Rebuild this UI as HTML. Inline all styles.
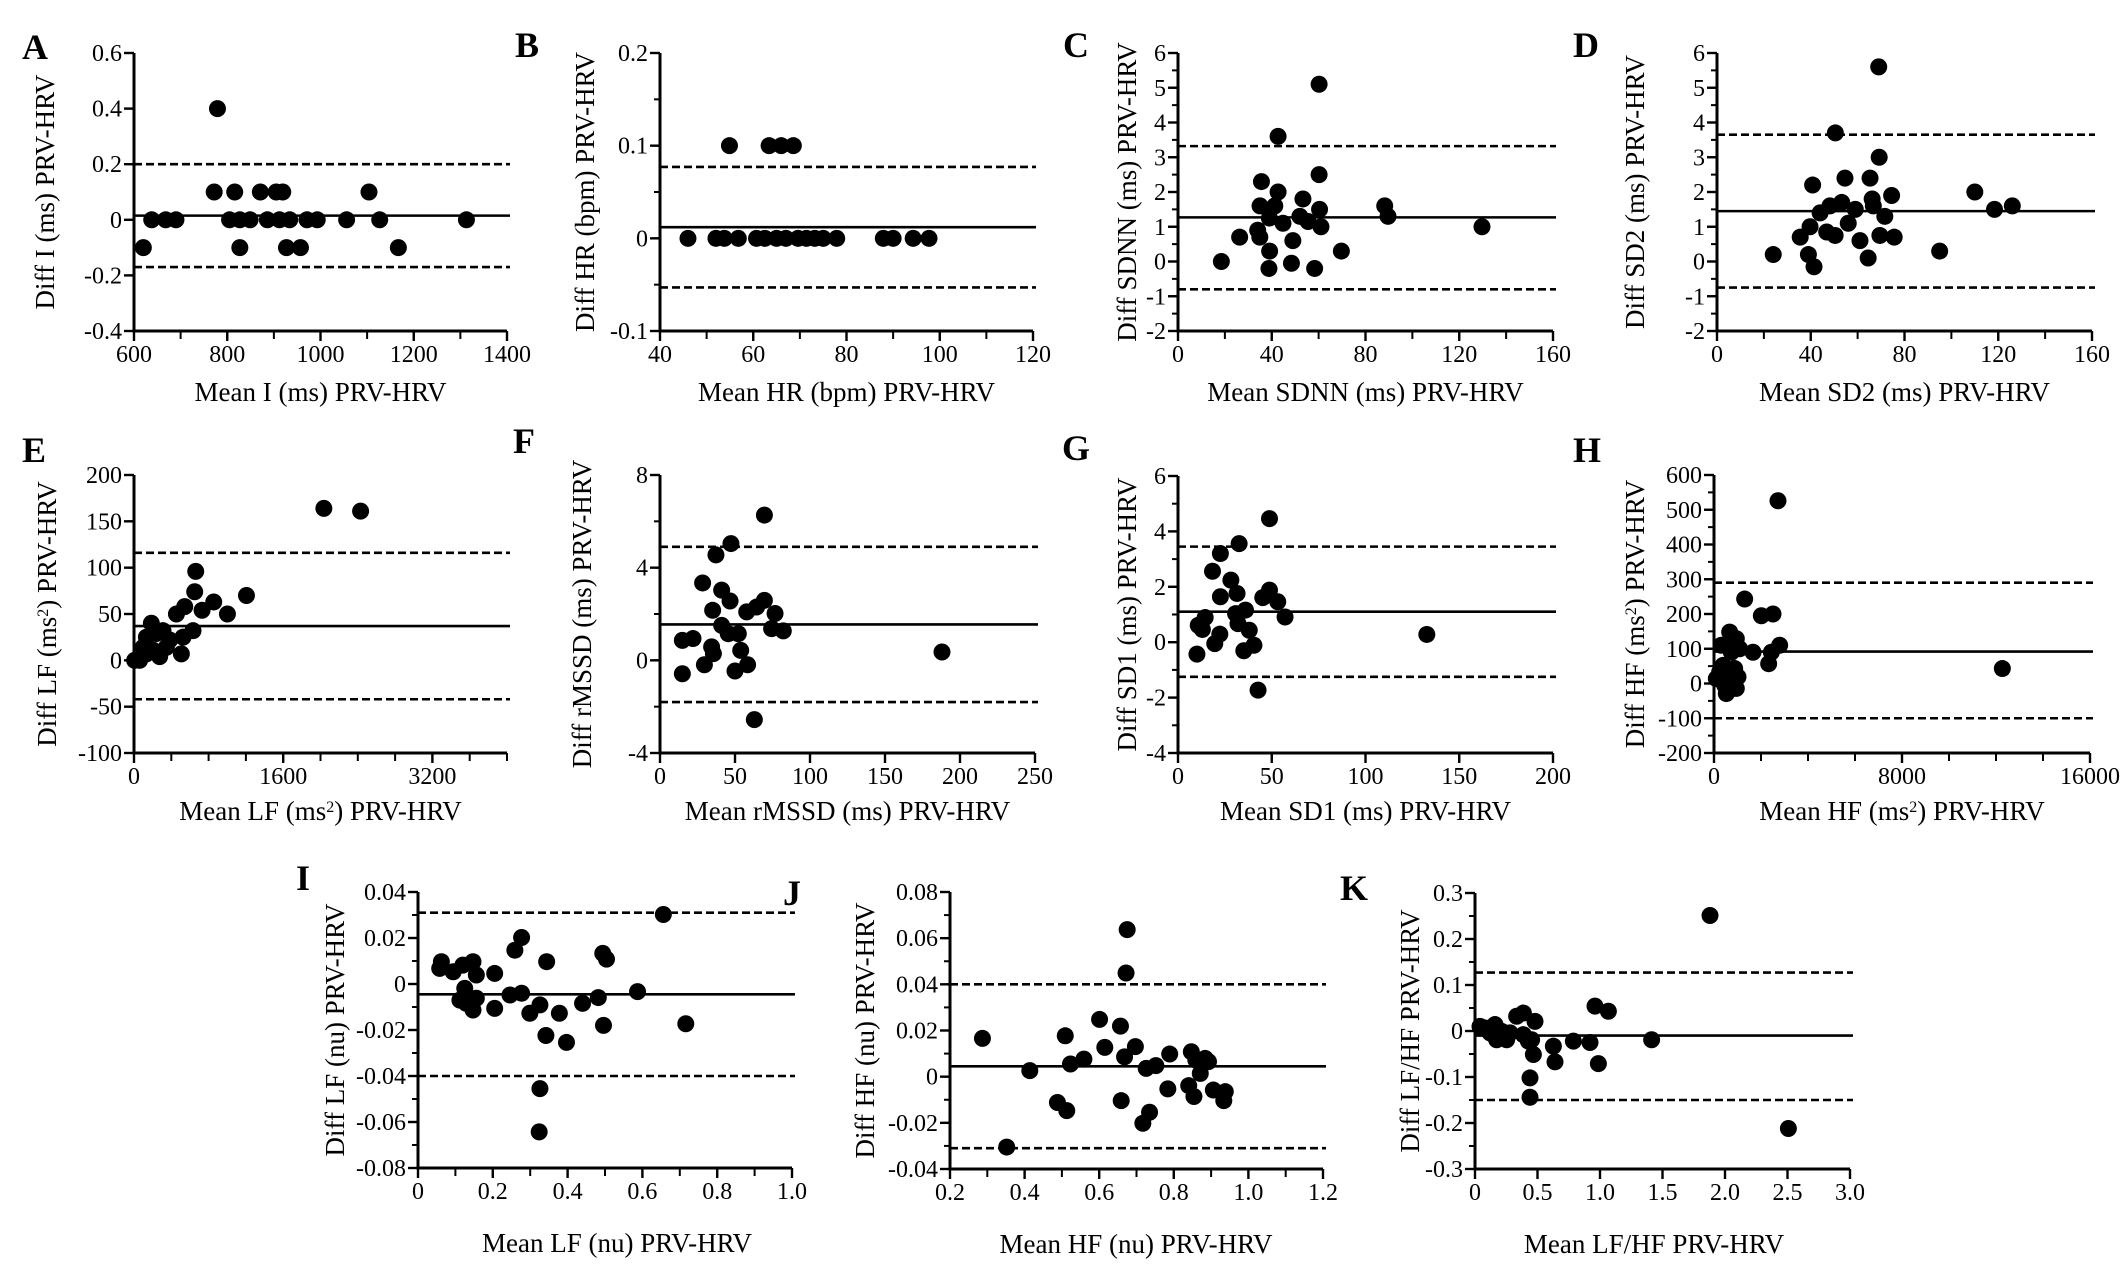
<!DOCTYPE html>
<html><head><meta charset="utf-8"><style>
html,body{margin:0;padding:0;background:#fff;}
svg, svg text{font-family:"Liberation Serif","DejaVu Serif","Times New Roman",serif;}
</style></head><body>
<svg id="fig" width="2126" height="1270" viewBox="0 0 2126 1270" xmlns="http://www.w3.org/2000/svg"></svg>
<script>
// ---- Data ----
const aX=[620,638,668,690,779,772,816,805,827,827,849,871,886,905,919,912,934,927,957,971,993,1056,1104,1127,1167,1313];
const aY=[-0.1,0,0,0,0.4,0.1,0.1,0,-0.1,0,0,0.1,0,0.1,0.1,0,0,-0.1,-0.1,0,0,0,0.1,0,-0.1,0];
const aLines=[0.015,0.2,-0.17];
const bX=[54.9,63.4,66,68.6,46,52,53.8,56.8,60.7,62.5,65,67,69.6,71.4,73.2,75,77.9,87.9,90,94.3,97.7];
const bY=[0.1,0.1,0.1,0.1,0,0,0,0,0,0,0,0,0,0,0,0,0,0,0,0,0];
const bLines=[0.012,0.077,-0.053];
const cX=[18.5,26.3,35.6,35,34,34.9,39.1,38.8,42.7,42.7,41.3,39,44.8,49,48.4,53.3,52,55.5,58.3,60.2,60.2,60.4,61,69.7,88.2,89.6,129.7];
const cY=[0,0.7,2.3,1.6,0.9,0.7,0.3,-0.2,3.6,2.0,1.6,1.25,1.1,0.6,-0.05,1.8,1.3,1.15,-0.2,5.1,2.5,1.5,1.0,0.3,1.6,1.3,1.0];
const cLines=[1.27,3.32,-0.8];
const dX=[24,35.5,39,41.4,40.8,39.7,44,46.8,48.2,50.4,50.5,53.2,54.6,56,59,61,64.5,65.3,66.2,66.7,69,69.2,69.5,71.6,74.5,75.6,95,110,118.4,126];
const dY=[0.2,0.7,0.2,-0.15,2.2,1.0,1.4,0.85,1.6,0.75,3.7,1.7,2.4,1.1,1.5,0.6,0.1,2.4,1.8,1.6,5.6,3.0,0.75,1.3,1.9,0.7,0.3,2.0,1.5,1.6];
const dLines=[1.45,3.65,-0.75];
const eX=[7,60,133,186,133,240,311,275,383,347,508,526,455,544,633,651,662,730,855,1002,1206,2036,2430,97,204];
const eY=[0,0,7,40,25,29,32,4,22,14,7,25,50,58,32,74,96,54,63,50,70,164,161,14,11];
const eLines=[37,116,-42];
const fX=[14.9,14.9,22,28.4,29.6,37.3,35.1,34.4,35.6,41.1,46.7,41.1,45.5,52.2,53.8,47.3,50,58.4,57.8,64.4,69.6,69.6,76.7,74.4,82.2,62.9,188];
const fY=[-0.58,0.86,0.94,3.34,-0.19,4.55,2.16,0.58,0.29,3.03,2.56,1.51,1.15,1.15,0.43,5.04,-0.46,-0.19,2.09,2.3,6.27,2.59,2.02,1.37,1.27,-2.56,0.36];
const fLines=[1.55,4.9,-1.8];
const gX=[10.1,10.8,13,14.5,18.4,19.6,22.3,22.6,22.6,28.2,32.6,31.5,30.7,32,36,35.1,38,40.5,42.7,45.2,48.8,48.8,53.2,57.1,132.7];
const gY=[-0.43,0.61,0.46,0.89,2.56,-0.05,0.29,3.2,1.64,2.24,3.56,1.76,1.03,0.67,1.16,-0.31,0.43,-0.11,-1.73,1.61,1.88,4.46,1.46,0.91,0.28];
const gLines=[1.1,3.45,-1.25];
const hX=[99,241,312,383,454,525,667,738,809,879,950,1021,1092,1305,1660,2014,2511,2326,2440,2794,2723,12270,525,950];
const hY=[14,33,110,52,-5,24,148,90,-14,43,129,19,100,243,90,195,200,57,90,110,526,43,-29,-14];
const hLines=[92,290,-100];
const iX=[0.0625,0.058,0.094,0.12,0.147,0.156,0.125,0.112,0.129,0.147,0.156,0.205,0.205,0.246,0.259,0.277,0.277,0.299,0.326,0.344,0.342,0.326,0.324,0.378,0.397,0.44,0.482,0.494,0.504,0.496,0.587,0.656,0.716];
const iY=[0.0097,0.0068,0.0053,0.0082,0.0097,0.0039,-0.0019,-0.007,-0.0084,-0.0113,-0.0062,0.0046,-0.0106,-0.0048,0.0147,0.0202,-0.004,-0.0127,-0.0091,0.0097,-0.0224,-0.0455,-0.0643,-0.0127,-0.0254,-0.0084,-0.0059,0.0133,0.0108,-0.018,-0.0033,0.0302,-0.0173];
const iLines=[-0.0045,0.031,-0.040];
const jX=[0.287,0.352,0.414,0.488,0.513,0.509,0.523,0.559,0.601,0.615,0.657,0.659,0.668,0.672,0.675,0.697,0.717,0.735,0.726,0.752,0.789,0.784,0.847,0.84,0.854,0.871,0.884,0.893,0.906,0.938,0.934,0.859];
const jY=[0.0166,-0.0305,0.0026,-0.0112,-0.0147,0.0177,0.0055,0.0076,0.0248,0.0127,0.0219,-0.0104,0.0086,0.0449,0.0637,0.013,-0.0202,-0.0154,0.0036,0.0048,0.0098,-0.0053,0.0108,-0.0039,-0.0086,0.0014,0.0079,0.0065,-0.0058,-0.0065,-0.0104,0.0072];
const jLines=[0.0045,0.040,-0.031];
const kX=[0.04,0.08,0.12,0.16,0.173,0.213,0.253,0.28,0.333,0.387,0.387,0.427,0.48,0.453,0.467,0.44,0.44,0.627,0.64,0.787,0.92,0.96,0.987,1.067,1.413,1.88,2.507];
const kY=[0.01,0.0065,-0.004,0.014,-0.019,-0.0007,-0.019,-0.004,0.032,0.039,-0.008,-0.022,0.021,-0.019,-0.051,-0.102,-0.144,-0.033,-0.067,-0.022,-0.025,0.054,-0.071,0.043,-0.019,0.251,-0.212];
const kLines=[-0.01,0.127,-0.15];

// tick label arrays
const aXT=["600","800","1000","1200","1400"], aYT=["-0.4","-0.2","0","0.2","0.4","0.6"];
const bXT=["40","60","80","100","120"], bYT=["-0.1","0","0.1","0.2"];
const cXT=["0","40","80","120","160"], cYT=["-2","-1","0","1","2","3","4","5","6"];
const eXT=["0","1600","3200"], eYT=["-100","-50","0","50","100","150","200"];
const fXT=["0","50","100","150","200","250"], fYT=["-4","0","4","8"];
const gXT=["0","50","100","150","200"], gYT=["-4","-2","0","2","4","6"];
const hXT=["0","8000","16000"], hYT=["-200","-100","0","100","200","300","400","500","600"];
const iXT=["0","0.2","0.4","0.6","0.8","1.0"], iYT=["-0.08","-0.06","-0.04","-0.02","0","0.02","0.04"];
const jXT=["0.2","0.4","0.6","0.8","1.0","1.2"], jYT=["-0.04","-0.02","0","0.02","0.04","0.06","0.08"];
const kXT=["0","0.5","1.0","1.5","2.0","2.5","3.0"], kYT=["-0.3","-0.2","-0.1","0","0.1","0.2","0.3"];

const NS="http://www.w3.org/2000/svg";
const FF="'Liberation Serif', 'DejaVu Serif', serif";
const svg=document.getElementById('fig');
function mk(tag,attrs,parent){const e=document.createElementNS(NS,tag);for(const k in attrs)e.setAttribute(k,attrs[k]);if(tag==='text')e.setAttribute('font-family',FF);(parent||svg).appendChild(e);return e;}

function panel(p){
  const g=mk('g',{});
  
  
  const sx=v=>p.x0+(v-p.xd[0])/(p.xd[1]-p.xd[0])*(p.x1-p.x0);
  const sy=v=>p.y1-(v-p.yd[0])/(p.yd[1]-p.yd[0])*(p.y1-p.y0);
  const L=mk('text',{x:p.lx,y:p.ly,'font-size':36,'font-weight':'bold'},g);
  L.textContent=p.id;
  
  
  p.lines.forEach((v,i)=>{
    const ln=mk('line',{x1:p.x0,x2:p.x1+3,y1:sy(v),y2:sy(v),stroke:'#000','stroke-width':2.6},g);
    if(i>0)ln.setAttribute('stroke-dasharray','8 4');
    
    
  });
  p.X.forEach((v,i)=>{
    const c=mk('circle',{cx:sx(v),cy:sy(p.Y[i]),r:8.5,fill:'#000'},g);
    
    
  });
  const ax=mk('path',{d:`M${p.x0},${p.y0}V${p.y1}H${p.x1}`,stroke:'#000','stroke-width':3,fill:'none'},g);
  
  
  for(let v=p.yd[0];v<=p.yd[1]+1e-9;v+=p.yminor){
    const vv=Math.round(v/p.yminor)*p.yminor;
    mk('line',{x1:p.x0-6,x2:p.x0,y1:sy(vv),y2:sy(vv),stroke:'#000','stroke-width':2},g);
  }
  p.yt.forEach((t,i)=>{
    const v=parseFloat(t);
    mk('line',{x1:p.x0-10,x2:p.x0,y1:sy(v),y2:sy(v),stroke:'#000','stroke-width':2.4},g);
    const tx=mk('text',{x:p.x0-12,y:sy(v)+8,'font-size':24,'text-anchor':'end'},g);
    tx.textContent=t;
    
    
  });
  for(let v=p.xd[0];v<=p.xd[1]+1e-9;v+=p.xminor){
    const vv=Math.round(v/p.xminor)*p.xminor;
    mk('line',{x1:sx(vv),x2:sx(vv),y1:p.y1,y2:p.y1+8,stroke:'#000','stroke-width':2},g);
  }
  p.xt.forEach((t,i)=>{
    const v=parseFloat(t);
    mk('line',{x1:sx(v),x2:sx(v),y1:p.y1,y2:p.y1+10,stroke:'#000','stroke-width':2.4},g);
    const tx=mk('text',{x:sx(v),y:p.y1+31,'font-size':24,'text-anchor':'middle'},g);
    tx.textContent=t;
    
    
  });
  const xt=mk('text',{x:(p.xtx!==undefined?p.xtx:(p.x0+p.x1)/2),y:p.y1+p.xtOff,'font-size':27,'text-anchor':'middle'},g);
  xt.innerHTML=p.xtitle;
  
  
  const cy=(p.y0+p.y1)/2;
  const yt=mk('text',{x:0,y:0,'font-size':27,'text-anchor':'middle',transform:`translate(${p.ytx+9},${cy}) rotate(-90)`},g);
  yt.innerHTML=p.ytitle;
  
  
}
const sup='<tspan baseline-shift="super" font-size="16">2</tspan>';
panel({id:'A',lx:22,ly:59,x0:134,x1:507,y0:53,y1:331,xd:[600,1400],yd:[-0.4,0.6],xminor:100,yminor:0.2,xt:aXT,yt:aYT,X:aX,Y:aY,lines:aLines,xtitle:'Mean I (ms) PRV-HRV',ytitle:'Diff I (ms)  PRV-HRV',ytx:45,xtOff:70});
panel({id:'B',lx:515,ly:57,x0:660,x1:1033,y0:53,y1:331,xd:[40,120],yd:[-0.1,0.2],xminor:10,yminor:0.05,xt:bXT,yt:bYT,X:bX,Y:bY,lines:bLines,xtitle:'Mean HR (bpm) PRV-HRV',ytitle:'Diff HR (bpm)  PRV-HRV',ytx:585,xtOff:70});
panel({id:'C',lx:1063,ly:57,x0:1178,x1:1553,y0:53,y1:331,xd:[0,160],yd:[-2,6],xminor:20,yminor:0.5,xt:cXT,yt:cYT,X:cX,Y:cY,lines:cLines,xtitle:'Mean SDNN (ms) PRV-HRV',ytitle:'Diff SDNN (ms) PRV-HRV',ytx:1127,xtOff:70});
panel({id:'D',lx:1573,ly:57,x0:1717,x1:2092,y0:53,y1:331,xd:[0,160],yd:[-2,6],xminor:20,yminor:0.5,xt:cXT,yt:cYT,X:dX,Y:dY,lines:dLines,xtitle:'Mean SD2 (ms) PRV-HRV',ytitle:'Diff SD2 (ms) PRV-HRV',ytx:1635,xtOff:70});
panel({id:'E',lx:22,ly:462,x0:134,x1:507,y0:475,y1:753,xd:[0,4000],yd:[-100,200],xminor:400,yminor:50,xt:eXT,yt:eYT,X:eX,Y:eY,lines:eLines,xtitle:'Mean LF (ms'+sup+') PRV-HRV',ytitle:'Diff LF (ms'+sup+')  PRV-HRV',ytx:47,xtOff:67});
panel({id:'F',lx:513,ly:453,x0:660,x1:1035,y0:475,y1:753,xd:[0,250],yd:[-4,8],xminor:50,yminor:2,xt:fXT,yt:fYT,X:fX,Y:fY,lines:fLines,xtitle:'Mean rMSSD (ms) PRV-HRV',ytitle:'Diff rMSSD (ms) PRV-HRV',ytx:582,xtOff:67});
panel({id:'G',lx:1062,ly:460,x0:1178,x1:1553,y0:476,y1:753,xd:[0,200],yd:[-4,6],xminor:50,yminor:1,xt:gXT,yt:gYT,X:gX,Y:gY,lines:gLines,xtitle:'Mean SD1 (ms) PRV-HRV',ytitle:'Diff SD1 (ms) PRV-HRV',ytx:1127,xtOff:67});
panel({id:'H',lx:1573,ly:462,x0:1714,x1:2090,y0:475,y1:753,xd:[0,16000],yd:[-200,600],xminor:2000,yminor:50,xt:hXT,yt:hYT,X:hX,Y:hY,lines:hLines,xtitle:'Mean HF (ms'+sup+') PRV-HRV',ytitle:'Diff HF (ms'+sup+') PRV-HRV',ytx:1635,xtOff:67});
panel({id:'I',lx:296,ly:890,x0:418,x1:792,y0:892,y1:1168,xd:[0,1],yd:[-0.08,0.04],xminor:0.1,yminor:0.01,xt:iXT,yt:iYT,X:iX,Y:iY,lines:iLines,xtitle:'Mean LF (nu) PRV-HRV',ytitle:'Diff LF (nu)  PRV-HRV',ytx:335,xtOff:84,xtx:617});
panel({id:'J',lx:783,ly:905,x0:950,x1:1323,y0:892,y1:1169,xd:[0.2,1.2],yd:[-0.04,0.08],xminor:0.1,yminor:0.01,xt:jXT,yt:jYT,X:jX,Y:jY,lines:jLines,xtitle:'Mean HF (nu) PRV-HRV',ytitle:'Diff HF  (nu) PRV-HRV',ytx:865,xtOff:84,xtx:1136});
panel({id:'K',lx:1340,ly:900,x0:1475,x1:1850,y0:893,y1:1169,xd:[0,3],yd:[-0.3,0.3],xminor:0.5,yminor:0.05,xt:kXT,yt:kYT,X:kX,Y:kY,lines:kLines,xtitle:'Mean LF/HF PRV-HRV',ytitle:'Diff LF/HF PRV-HRV',ytx:1410,xtOff:84,xtx:1654});
</script>
</body></html>
